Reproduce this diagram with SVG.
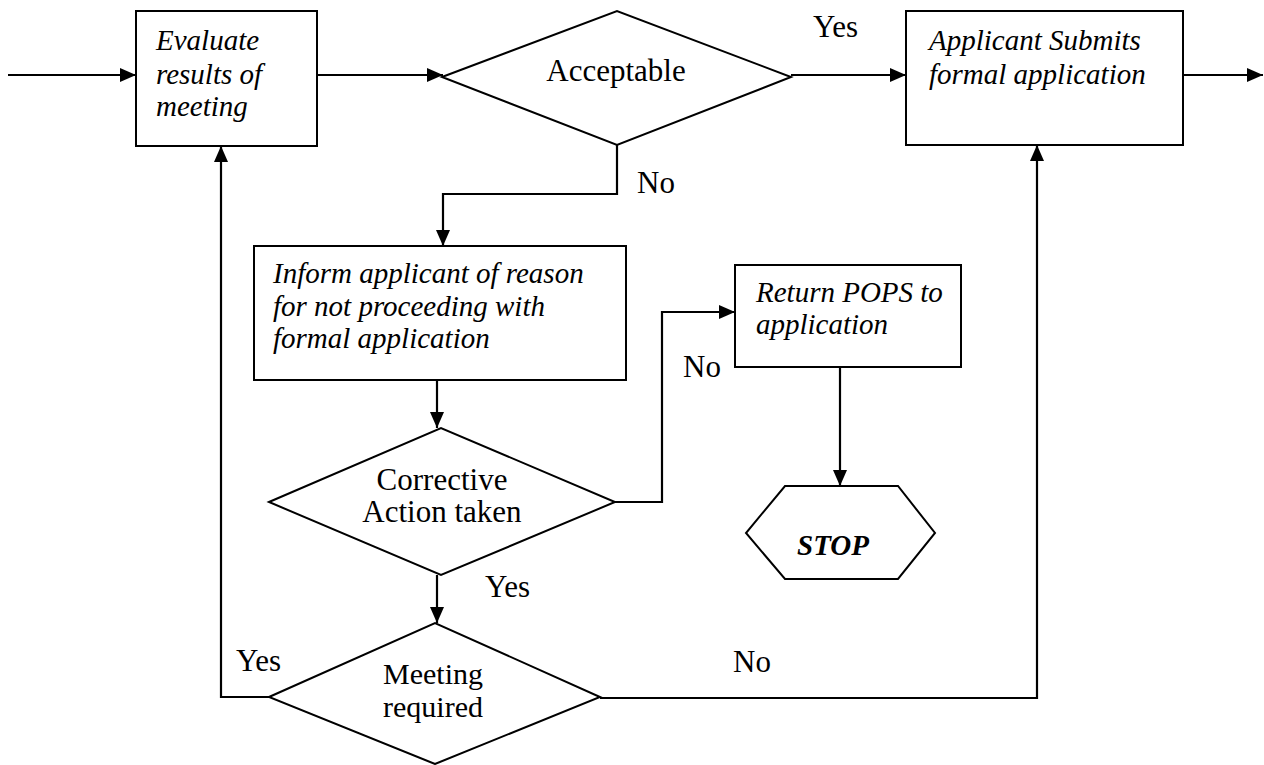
<svg xmlns="http://www.w3.org/2000/svg" width="1264" height="765" viewBox="0 0 1264 765">
<style>
.shape{fill:#fff;stroke:#000;stroke-width:2}
.line{fill:none;stroke:#000;stroke-width:2.2}
text{font-family:'Liberation Serif','Times New Roman',Times,'DejaVu Serif',serif;fill:#000}
.it{font-style:italic;font-size:29px}
.rg{font-size:31px}
.mid{text-anchor:middle}
.stop{font-style:italic;font-weight:bold;font-size:29px;text-anchor:middle}
</style>
<defs>
<marker id="arr" markerUnits="userSpaceOnUse" markerWidth="17" markerHeight="15" refX="16" refY="7" orient="auto">
<path d="M0,0 L16,7 L0,14 z" fill="#000"/>
</marker>
</defs>
<rect width="1264" height="765" fill="#fff"/>
<g id="connectors">
<line class="line" x1="8" y1="75" x2="136" y2="75" marker-end="url(#arr)"/>
<line class="line" x1="317" y1="75" x2="443" y2="75" marker-end="url(#arr)"/>
<line class="line" x1="791" y1="75" x2="906" y2="75" marker-end="url(#arr)"/>
<line class="line" x1="1183" y1="75" x2="1263" y2="75" marker-end="url(#arr)"/>
<polyline class="line" points="617,145 617,194 443,194 443,246" marker-end="url(#arr)"/>
<line class="line" x1="437" y1="380" x2="437" y2="428" marker-end="url(#arr)"/>
<polyline class="line" points="615,502 662,502 662,312 735,312" marker-end="url(#arr)"/>
<line class="line" x1="840" y1="367" x2="840" y2="486" marker-end="url(#arr)"/>
<line class="line" x1="437" y1="575" x2="437" y2="623" marker-end="url(#arr)"/>
<polyline class="line" points="269,697 221,697 221,146" marker-end="url(#arr)"/>
<polyline class="line" points="600,698 1037,698 1037,145" marker-end="url(#arr)"/>
<text class="rg" x="813" y="37">Yes</text>
<text class="rg" x="637" y="193">No</text>
<text class="rg" x="683" y="377">No</text>
<text class="rg" x="485" y="597">Yes</text>
<text class="rg" x="236" y="671">Yes</text>
<text class="rg" x="733" y="672">No</text>
</g>
<g id="evaluate">
<rect class="shape" x="136" y="11" width="181" height="135"/>
<text class="it" x="156" y="50">Evaluate</text>
<text class="it" x="156" y="84">results of</text>
<text class="it" x="156" y="116">meeting</text>
</g>
<g id="acceptable">
<polygon class="shape" points="442,77 617,11 791,77 617,145"/>
<text class="rg mid" x="616" y="81">Acceptable</text>
</g>
<g id="submit">
<rect class="shape" x="906" y="11" width="277" height="134"/>
<text class="it" x="929" y="50">Applicant Submits</text>
<text class="it" x="929" y="84">formal application</text>
</g>
<g id="inform">
<rect class="shape" x="254" y="246" width="372" height="134"/>
<text class="it" x="273" y="283">Inform applicant of reason</text>
<text class="it" x="273" y="316">for not proceeding with</text>
<text class="it" x="273" y="348">formal application</text>
</g>
<g id="corrective">
<polygon class="shape" points="269,502 441,428 615,502 441,575"/>
<text class="rg mid" x="442" y="490">Corrective</text>
<text class="rg mid" x="442" y="522">Action taken</text>
</g>
<g id="return">
<rect class="shape" x="735" y="265" width="226" height="102"/>
<text class="it" x="756" y="302">Return POPS to</text>
<text class="it" x="756" y="334">application</text>
</g>
<g id="stop">
<polygon class="shape" points="785,486 898,486 935,533 898,579 785,579 746,533"/>
<text class="stop" x="833" y="555">STOP</text>
</g>
<g id="meeting">
<polygon class="shape" points="269,697 435,623 600,697 435,764"/>
<text class="mid" style="font-size:30px" x="433" y="684">Meeting</text>
<text class="mid" style="font-size:30px" x="433" y="717">required</text>
</g>
</svg>
